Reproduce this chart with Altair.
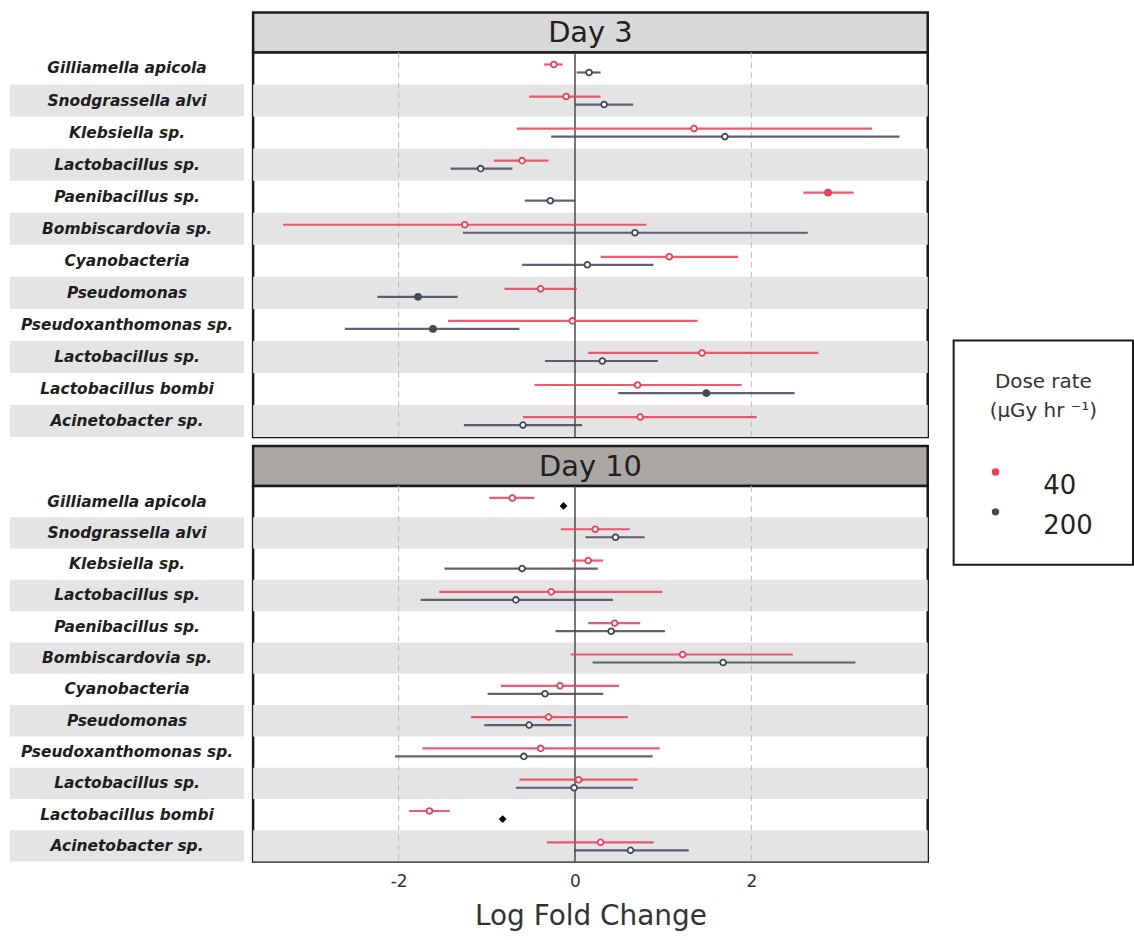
import altair as alt
import pandas as pd

# Taxa, listed top to bottom
species = [
    "Gilliamella apicola", "Snodgrassella alvi", "Klebsiella sp.", "Lactobacillus sp.",
    "Paenibacillus sp.", "Bombiscardovia sp.", "Cyanobacteria", "Pseudomonas",
    "Pseudoxanthomonas sp.", "Lactobacillus sp.", "Lactobacillus bombi", "Acinetobacter sp.",
]
doses = ["40", "200"]
legend_title = ["Dose rate", "(µGy hr ⁻¹)"]

# Day 3 log fold change estimates and interval bounds
d3_40_est = [-0.24, -0.10, 1.35, -0.60, 2.87, -1.25, 1.07, -0.39, -0.03, 1.44, 0.71, 0.74]
d3_40_lo = [-0.35, -0.52, -0.66, -0.92, 2.59, -3.31, 0.29, -0.80, -1.44, 0.15, -0.46, -0.59]
d3_40_hi = [-0.14, 0.29, 3.37, -0.30, 3.16, 0.81, 1.85, 0.02, 1.39, 2.76, 1.89, 2.06]
d3_40_mark = ["open", "open", "open", "open", "filled", "open", "open", "open", "open", "open", "open", "open"]

d3_200_est = [0.16, 0.33, 1.70, -1.07, -0.28, 0.68, 0.14, -1.78, -1.61, 0.31, 1.49, -0.59]
d3_200_lo = [0.02, 0.00, -0.27, -1.41, -0.57, -1.27, -0.60, -2.24, -2.61, -0.34, 0.49, -1.26]
d3_200_hi = [0.29, 0.66, 3.68, -0.71, 0.00, 2.64, 0.89, -1.33, -0.63, 0.94, 2.49, 0.08]
d3_200_mark = ["open", "open", "open", "open", "open", "open", "open", "filled", "filled", "open", "filled", "open"]

# Day 10 log fold change estimates and interval bounds
d10_40_est = [-0.71, 0.23, 0.15, -0.27, 0.45, 1.22, -0.17, -0.30, -0.39, 0.04, -1.65, 0.29]
d10_40_lo = [-0.97, -0.16, -0.03, -1.54, 0.15, -0.05, -0.84, -1.18, -1.73, -0.63, -1.88, -0.32]
d10_40_hi = [-0.46, 0.62, 0.32, 0.99, 0.74, 2.47, 0.50, 0.60, 0.96, 0.71, -1.42, 0.89]
d10_40_mark = ["open"] * 12

d10_200_est = [-0.13, 0.46, -0.60, -0.67, 0.41, 1.68, -0.34, -0.52, -0.58, -0.01, -0.82, 0.63]
d10_200_lo = [None, 0.12, -1.48, -1.75, -0.22, 0.20, -0.99, -1.03, -2.04, -0.67, None, -0.01]
d10_200_hi = [None, 0.79, 0.26, 0.43, 1.02, 3.18, 0.32, -0.04, 0.88, 0.66, None, 1.29]
d10_200_mark = ["diamond", "open", "open", "open", "open", "open", "open", "open", "open", "open", "diamond", "open"]

grid_ticks = [-2, 2]
x_ticks = [-2, 0, 2]

RED = "#ec3d5b"
NAVY = "#414859"
FONT = "DejaVu Sans"
X_DOMAIN = [-3.65, 4.0]
PLOT_W = 677
LABEL_W = 235
HEADER_H = 40
LEG_W, LEG_H = 180, 225


def frame(est40, lo40, hi40, mk40, est200, lo200, hi200, mk200):
    rows = []
    for i in range(len(species)):
        rows.append(dict(row=i, dose="40", est=est40[i], lo=lo40[i], hi=hi40[i], marker=mk40[i]))
        rows.append(dict(row=i, dose="200", est=est200[i], lo=lo200[i], hi=hi200[i], marker=mk200[i]))
    return pd.DataFrame(rows)


rows_df = pd.DataFrame({"row": list(range(len(species))), "name": species})
rows_df["stripe"] = rows_df["row"] % 2

row_scale_domain = list(range(len(species)))
dose_scale = alt.Scale(domain=doses, range=[RED, NAVY])
dose_stroke = alt.Stroke("dose:N", scale=dose_scale, legend=None)
dose_fill = alt.Fill("dose:N", scale=dose_scale, legend=None)


def label_column(plot_h):
    y = alt.Y("row:O", axis=None,
              scale=alt.Scale(domain=row_scale_domain, paddingInner=0, paddingOuter=0,
                              range=[HEADER_H, HEADER_H + plot_h]))
    base = alt.Chart(rows_df)
    stripes = base.transform_filter("datum.stripe == 1").mark_rect(color="#e4e4e4").encode(
        x=alt.value(0), x2=alt.value(LABEL_W), y=y
    )
    text = base.mark_text(fontStyle="italic", fontWeight="bold", fontSize=15.5, font=FONT,
                          color="#1e1e1e").encode(
        x=alt.value(LABEL_W / 2), y=y, text="name:N"
    )
    return alt.layer(stripes, text).properties(
        width=LABEL_W, height=HEADER_H + plot_h, view=alt.ViewBackground(stroke=None)
    )


def header(title, fill):
    return alt.Chart(pd.DataFrame({"day": [title]})).mark_text(
        fontSize=29, font=FONT, color="#202020"
    ).encode(
        text="day:N", x=alt.value(PLOT_W / 2), y=alt.value(HEADER_H / 2 + 1)
    ).properties(
        width=PLOT_W, height=HEADER_H,
        view=alt.ViewBackground(fill=fill, stroke="#1a1a1a", strokeWidth=2.5),
    )


def panel(df, plot_h, show_axis):
    if show_axis:
        x_axis = alt.Axis(values=x_ticks, ticks=False, domain=False, grid=False,
                          labelExpr="'' + datum.value",
                          labelFontSize=17, labelFont=FONT, labelColor="#333333", labelPadding=12,
                          title="Log Fold Change", titleFontSize=28, titleFont=FONT,
                          titleFontWeight="normal", titleColor="#333333", titlePadding=13)
    else:
        x_axis = None
    xs = alt.Scale(domain=X_DOMAIN, nice=False, zero=False)
    y = alt.Y("row:O", axis=None,
              scale=alt.Scale(domain=row_scale_domain, paddingInner=0, paddingOuter=0))
    y_off = alt.YOffset("dose:N", scale=alt.Scale(domain=doses, paddingInner=0, paddingOuter=1))

    stripes = alt.Chart(rows_df).transform_filter("datum.stripe == 1").mark_rect(
        color="#e4e4e4"
    ).encode(x=alt.value(0), x2=alt.value(PLOT_W), y=y)

    grid = alt.Chart(pd.DataFrame({"v": grid_ticks})).mark_rule(
        color="#bdbdbd", strokeDash=[6, 4], strokeWidth=1
    ).encode(x=alt.X("v:Q", scale=xs, axis=x_axis))

    zero = alt.Chart(pd.DataFrame({"v": [0]})).mark_rule(
        color="#4a4a4a", strokeWidth=1.5
    ).encode(x=alt.X("v:Q", scale=xs))

    base = alt.Chart(df)
    bars = base.transform_filter("isValid(datum.lo)").mark_rule(strokeWidth=2.2, opacity=0.85).encode(
        x=alt.X("lo:Q", scale=xs), x2="hi:Q", y=y, yOffset=y_off, stroke=dose_stroke,
    )
    open_pts = base.transform_filter("datum.marker == 'open'").mark_point(
        shape="circle", fill="white", fillOpacity=1, size=34, strokeWidth=1.8, opacity=1
    ).encode(
        x=alt.X("est:Q", scale=xs), y=y, yOffset=y_off, stroke=dose_stroke,
    )
    filled_pts = base.transform_filter("datum.marker == 'filled'").mark_circle(
        size=60, opacity=1, strokeWidth=0
    ).encode(x=alt.X("est:Q", scale=xs), y=y, yOffset=y_off, fill=dose_fill)
    diamonds = base.transform_filter("datum.marker == 'diamond'").mark_point(
        shape="diamond", filled=True, color="#000000", size=60, opacity=1
    ).encode(x=alt.X("est:Q", scale=xs), y=y, yOffset=y_off)

    return alt.layer(stripes, grid, zero, bars, open_pts, filled_pts, diamonds).properties(
        width=PLOT_W, height=plot_h,
        view=alt.ViewBackground(fill="white", stroke="#1a1a1a", strokeWidth=2.5),
    )


def dose_legend():
    title_df = pd.DataFrame({"line": [0, 1], "text": legend_title})
    key_df = pd.DataFrame({"dose": doses})
    key_y = alt.Y("dose:N", axis=None,
                  scale=alt.Scale(type="point", domain=doses, range=[132, 172], padding=0))
    title = alt.Chart(title_df).mark_text(fontSize=20, font=FONT, color="#333333").encode(
        x=alt.value(LEG_W / 2),
        y=alt.Y("line:O", axis=None,
                scale=alt.Scale(type="point", domain=[0, 1], range=[42, 71], padding=0)),
        text="text:N",
    )
    dots = alt.Chart(key_df).mark_circle(size=55, opacity=1, strokeWidth=0).encode(
        x=alt.value(42), y=key_y, fill=dose_fill
    )
    labels = alt.Chart(key_df).mark_text(
        align="left", fontSize=26, font=FONT, color="#222222", dy=14
    ).encode(x=alt.value(90), y=key_y, text="dose:N")
    box = alt.layer(title, dots, labels).resolve_scale(y="independent").properties(
        width=LEG_W, height=LEG_H,
        view=alt.ViewBackground(fill="white", stroke="#1a1a1a", strokeWidth=2),
    )
    spacer = alt.Chart(pd.DataFrame({"a": [0]})).mark_point(opacity=0).encode(
        x=alt.value(0), y=alt.value(0)
    ).properties(width=LEG_W, height=329, view=alt.ViewBackground(stroke=None))
    return alt.vconcat(spacer, box, spacing=0, bounds="flush")


df3 = frame(d3_40_est, d3_40_lo, d3_40_hi, d3_40_mark, d3_200_est, d3_200_lo, d3_200_hi, d3_200_mark)
df10 = frame(d10_40_est, d10_40_lo, d10_40_hi, d10_40_mark, d10_200_est, d10_200_lo, d10_200_hi, d10_200_mark)

H3, H10 = 386, 377

day3 = alt.hconcat(
    label_column(H3),
    alt.vconcat(header("Day 3", "#d8d8d8"), panel(df3, H3, False), spacing=0, bounds="flush"),
    spacing=7,
)
day10 = alt.hconcat(
    label_column(H10),
    alt.vconcat(header("Day 10", "#aaa7a5"), panel(df10, H10, True), spacing=0, bounds="flush"),
    spacing=7,
)

panels = alt.vconcat(day3, day10, spacing=5)

chart = alt.hconcat(panels, dose_legend(), spacing=21).resolve_scale(
    fill="shared", stroke="shared"
).properties(
    padding={"left": 10, "top": 8, "right": 0, "bottom": 0}
).configure_view(stroke=None)

chart.save("out.html", embed_options={"renderer": "svg", "actions": False})
